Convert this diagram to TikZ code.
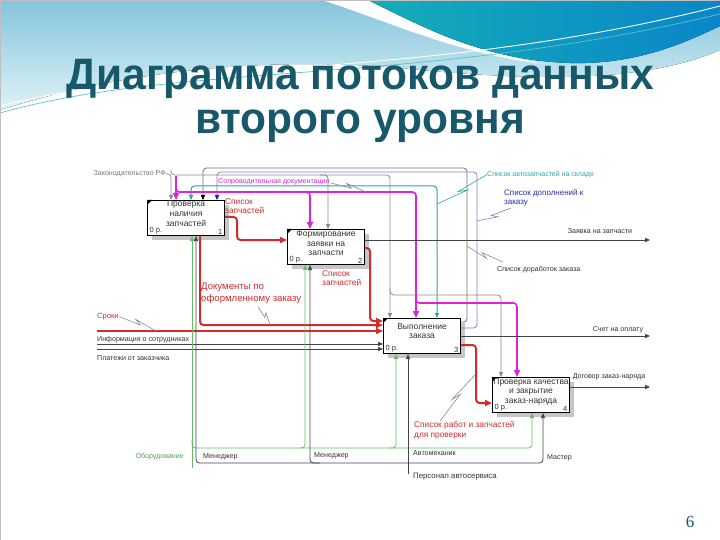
\documentclass[tikz,border=0pt]{standalone}
\usepackage{fontspec}
\setmainfont{Liberation Sans}
\newfontfamily\numfont{Liberation Serif}
\usetikzlibrary{arrows.meta,calc}
\definecolor{ttl}{HTML}{17596B}
\definecolor{rd}{HTML}{D42B2B}
\definecolor{mg}{HTML}{DD22DD}
\definecolor{tl}{HTML}{2FA5A5}
\definecolor{bl}{HTML}{8080CC}
\definecolor{bla}{HTML}{1A1AC8}
\definecolor{blt}{HTML}{2B2BB0}
\definecolor{gr}{HTML}{66BB66}
\definecolor{gy}{HTML}{8C8C8C}
\definecolor{dk}{HTML}{444444}
\definecolor{txt}{HTML}{333333}
\definecolor{wa}{HTML}{86C4DC}
\definecolor{wb}{HTML}{DDF3F7}
\definecolor{tc}{HTML}{14AEB9}
\definecolor{td}{HTML}{0A86C8}
\definecolor{thinl}{HTML}{5CC0CF}
\newcommand{\sqg}[3][]{\draw[lead,#1] (#2) -- ($(#2)!0.58!(#3)$) -- ($(#2)!0.42!(#3)!3.5pt!90:(#3)$) -- (#3);}
\tikzset{
 box/.style={draw=black, line width=1.1pt, fill=white, minimum width=77pt, minimum height=35pt, inner sep=0pt, anchor=north west},
 shad/.style={fill=gray!45, draw=none},
 btxt/.style={font=\fontsize{8.5}{9.8}\selectfont, align=center, inner sep=0pt, anchor=north, text=txt},
 bsm/.style={font=\fontsize{7.5}{8}\selectfont, inner sep=0pt, text=txt},
 lbl/.style={font=\fontsize{7.1}{8}\selectfont, inner sep=0pt, text=txt},
 rlbl/.style={font=\fontsize{8.3}{9.5}\selectfont, inner sep=0pt, text=rd, align=left, anchor=north west},
 con/.style={rounded corners=3.5pt, line width=0.8pt},
 ar/.style={-{Triangle[length=5pt,width=4.2pt]}},
 rar/.style={-{Triangle[length=7pt,width=6pt]}},
 lead/.style={draw=gy, line width=0.6pt},
}
\begin{document}
\begin{tikzpicture}[x=1pt,y=-1pt]
\useasboundingbox (0,0) rectangle (720,540);
\fill[white] (0,0) rectangle (720,540);
% decoration
\fill[top color=wa, bottom color=wb] (0,0) -- (720,0) -- (720,50) .. controls (640,85) and (520,80) .. (400,68) .. controls (260,56) and (120,72) .. (0,110) -- cycle;
\fill[white] (322,0) .. controls (390,22) and (460,55) .. (545,64) .. controls (470,50) and (410,22) .. (368,0) -- cycle;
\fill[left color=tc, right color=td] (368,0) .. controls (420,25) and (480,60) .. (570,63) .. controls (640,65) and (690,40) .. (720,26) -- (720,0) -- cycle;
\draw[thinl, line width=0.7pt] (0,113) .. controls (180,62) and (420,86) .. (720,14);
\draw[white, line width=0.9pt] (0,106) .. controls (190,58) and (430,80) .. (720,6);
\draw[gray!50, line width=0.6pt] (0,0) rectangle (720,540);
% title
\node[anchor=base, text=ttl, inner sep=0pt, font=\fontsize{44}{48}\selectfont\bfseries] (t1) at (360,90) {\scalebox{0.965}[1]{Диаграмма потоков данных}};
\node[anchor=base, text=ttl, inner sep=0pt, font=\fontsize{44}{48}\selectfont\bfseries] (t2) at (360,134) {\scalebox{0.965}[1]{второго уровня}};
\node[anchor=base, text=ttl, inner sep=0pt, font=\fontsize{17}{20}\numfont] (pg) at (690,527) {6};
% boxes
\fill[shad] (152,205) rectangle (229,240);
\fill[shad] (292,234) rectangle (369,269);
\fill[shad] (388,323) rectangle (465,358);
\fill[shad] (497,382) rectangle (574,417);
\node[box] (b1) at (147,200) {};
\node[box] (b2) at (287,229) {};
\node[box] (b3) at (383,318) {};
\node[box] (b4) at (492,377) {};
\foreach \b in {b1,b2,b3,b4}{\fill (\b.north west) -- ++(5,0) -- ++(-5,5) -- cycle;}
\node[btxt] (b1t) at ($(b1.north)+(0,0.8)$) {Проверка\\наличия\\запчастей};
\node[btxt] (b2t) at ($(b2.north)+(0,1.3)$) {Формирование\\заявки на\\запчасти};
\node[btxt] (b3t) at ($(b3.north)+(0,5)$) {Выполнение\\заказа};
\node[btxt] (b4t) at ($(b4.north)+(0,1)$) {Проверка качества\\и закрытие\\заказ-наряда};
\node[bsm, anchor=south west] (b1z) at ($(b1.south west)+(2.5,-1.5)$) {0 р.};
\node[bsm, anchor=south west] (b2z) at ($(b2.south west)+(2.5,-1.5)$) {0 р.};
\node[bsm, anchor=south west] (b3z) at ($(b3.south west)+(2.5,-1.5)$) {0 р.};
\node[bsm, anchor=south west] (b4z) at ($(b4.south west)+(2.5,-1.5)$) {0 р.};
\node[bsm, anchor=south east] (b1n) at ($(b1.south east)+(-2.5,-1.5)$) {1};
\node[bsm, anchor=south east] (b2n) at ($(b2.south east)+(-2.5,-1.5)$) {2};
\node[bsm, anchor=south east] (b3n) at ($(b3.south east)+(-2.5,-1.5)$) {3};
\node[bsm, anchor=south east] (b4n) at ($(b4.south east)+(-2.5,-1.5)$) {4};
% gray control
\node[lbl, anchor=base east, text=gy!85!black] (law) at (166,175.5) {Законодательство РФ};
\draw[con, gy, ar] (law.east) -| (171,0 |- b1.north);
\draw[con, gy, ar] (171,170) |- (328,175) -- (328,0 |- b2.north);
\draw[con, gy, ar] (320,175) -| (390,0 |- b3.north);
\draw[con, gy, ar] (390,288) |- (501,295) -- (501,0 |- b4.north);
% feedback loops
\draw[con, dk!75, -{Triangle[length=5pt,width=4.2pt,color=black]}] (b3.east |- 0,322) -- (467,322) -- (467,168) -- (203,168) -- (203,0 |- b1.north);
\draw[con, bl, -{Triangle[length=5pt,width=4.2pt,color=bla]}] (b3.east |- 0,328) -- (477,328) -- (477,172) -- (217,172) -- (217,0 |- b1.north);
\node[lbl, anchor=base west] (dor) at (497,271.5) {Список доработок заказа};
\sqg{503,262}{467,246}
\node[font=\fontsize{8}{9}\selectfont, inner sep=0pt, text=blt, align=left, anchor=north west] (dop) at (504,189) {Список дополнений к\\заказу};
\sqg[draw=bl]{511,208}{477,221}
% teal
\draw[con, tl, line width=1pt, {Triangle[length=5pt,width=4.2pt]}-{Triangle[length=5pt,width=4.2pt]}] (191,0 |- b1.north) -- (191,186) -- (437,186) -- (437,0 |- b3.north);
\node[font=\fontsize{7}{8}\selectfont, inner sep=0pt, text=tl, anchor=base west] (stl) at (487,176.5) {Список автозапчастей на складе};
\sqg[draw=tl]{stl.west}{437,204}
% magenta
\draw[con, mg, line width=1.6pt, rar] (176,176) -- (176,0 |- b1.north);
\draw[con, mg, line width=1.6pt, rar] (176,185) |- (416,192) -- (416,0 |- b3.north);
\draw[con, mg, line width=1.6pt, rar] (300,192) -| (310,0 |- b2.north);
\draw[con, mg, line width=1.6pt, rar] (416,296) |- (517,303) -- (517,0 |- b4.north);
\node[font=\fontsize{7.1}{8}\selectfont, inner sep=0pt, text=mg, anchor=base west] (mgl) at (218,184) {Сопроводительная документация};
\sqg{331,183}{366,192}
% red flows
\draw[con, rd, line width=2pt, rar] (b1.east |- 0,217) -- (237,217) -- (237,240) -- (b2.west |- 0,240);
\node[rlbl] (r1l) at (225,198.5) {Список\\запчастей};
\draw[con, rd, line width=2pt, rar] (b2.east |- 0,248) -- (370,248) -- (370,321) -- (b3.west |- 0,321);
\node[rlbl] (r2l) at (322,270.5) {Список\\запчастей};
\draw[con, rd, line width=2pt, rar] (200,0 |- b1.south) -- (200,325) -- (b3.west |- 0,325);
\node[rlbl, font=\fontsize{9.6}{12}\selectfont] (r3l) at (201,283) {Документы по\\оформленному заказу};
\sqg{258,307}{270,325}
\draw[rd, line width=1.3pt, rar] (97,331) -- (b3.west |- 0,331);
\node[font=\fontsize{7.6}{9}\selectfont, inner sep=0pt, text=rd, anchor=base west] (srk) at (97,318.5) {Сроки};
\sqg{srk.east}{156,331}
\draw[con, rd, line width=2pt, rar] (b3.east |- 0,345) -- (476,345) -- (476,403) -- (b4.west |- 0,403);
\node[rlbl, font=\fontsize{8.3}{10}\selectfont] (r5l) at (414,421.5) {Список работ и запчастей\\для проверки};
\sqg{440,421}{475,375}
% black outputs / inputs
\draw[dk, line width=0.8pt, ar] (b2.east |- 0,240) -- (650,240);
\node[lbl, anchor=base] (o1l) at (600,233.5) {Заявка на запчасти};
\draw[dk, line width=0.8pt, ar] (b3.east |- 0,336) -- (650,336);
\node[lbl, anchor=base] (o2l) at (618,331.5) {Счет на оплату};
\draw[dk, line width=0.8pt, ar] (b4.east |- 0,387) -- (650,387);
\node[lbl, anchor=base] (o3l) at (609,378.5) {Договор заказ-наряда};
\draw[dk, line width=0.8pt, ar] (97,344) -- (b3.west |- 0,344);
\node[lbl, anchor=base west] (i1l) at (97,341.5) {Информация о сотрудниках};
\draw[dk, line width=0.8pt, ar] (97,349) -- (b3.west |- 0,349);
\node[lbl, anchor=base west] (i2l) at (97,360) {Платежи от заказчика};
% green mechanism
\draw[con, gr, ar] (192,468) -- (192,0 |- b1.south);
\draw[con, gr, ar] (192,440) |- (305,448) -- (305,0 |- b2.south);
\draw[con, gr, ar] (300,448) -| (396,0 |- b3.south);
\draw[con, gr, ar] (390,448) -| (532,0 |- b4.south);
\node[lbl, anchor=base east, text=gr!85!black] (eql) at (184,458.5) {Оборудование};
% staff mechanism
\draw[con, dk, ar] (408,474) -- (408,0 |- b3.south);
\draw[con, dk, ar] (408,463) -| (196,0 |- b1.south);
\draw[con, dk, ar] (320,463) -| (310,0 |- b2.south);
\draw[con, dk, ar] (408,463) -| (543,0 |- b4.south);
\node[lbl, anchor=base west] (m1l) at (203,458.5) {Менеджер};
\node[lbl, anchor=base west] (m2l) at (314,457.5) {Менеджер};
\node[lbl, anchor=base west] (m3l) at (413,455.8) {Автомеханик};
\node[lbl, anchor=base west] (m4l) at (547,459) {Мастер};
\node[lbl, anchor=base west, font=\fontsize{7.8}{9}\selectfont] (m5l) at (413,478) {Персонал автосервиса};
\end{tikzpicture}
\end{document}
